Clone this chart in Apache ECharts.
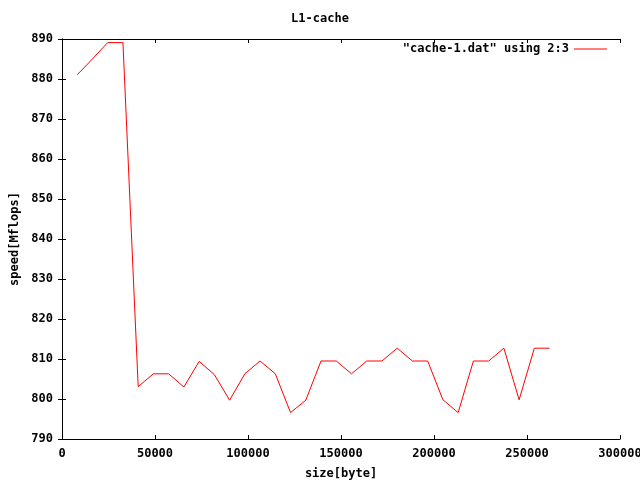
<!DOCTYPE html>
<html>
<head>
<meta charset="utf-8">
<script src="https://cdn.jsdelivr.net/npm/echarts@6/dist/echarts.min.js"></script>
<style>html,body{margin:0;padding:0;background:#fff}#c{width:640px;height:480px}</style>
</head>
<body>
<div id="c"></div>
<script>
var sizes = [8192, 12288, 24576, 32768, 40960, 49152, 57344, 65536, 73728, 81920, 90112, 98304, 106496, 114688, 122880, 131072, 139264, 147456, 155648, 163840, 172032, 180224, 188416, 196608, 204800, 212992, 221184, 229376, 237568, 245760, 253952, 262144];
var speeds = [881.1, 883.0, 889.1, 889.1, 803.1, 806.3, 806.3, 803.0, 809.4, 806.1, 799.7, 806.3, 809.5, 806.3, 796.6, 799.7, 809.5, 809.5, 806.3, 809.5, 809.5, 812.7, 809.5, 809.5, 799.8, 796.6, 809.5, 809.5, 812.7, 799.8, 812.7, 812.7];
var seriesName = '"cache-1.dat" using 2:3';
var titleText = 'L1-cache';
var xName = 'size[byte]';
var yName = 'speed[Mflops]';

var FONT = 'DejaVu Sans Mono';
var txt = {fontFamily: FONT, fontSize: 12, fontWeight: 'bold', color: '#000'};
var data = sizes.map(function (s, i) { return [s, speeds[i]]; });
var plain = function (v) { return String(v); };

var chart = echarts.init(document.getElementById('c'), null, {renderer: 'canvas'});
var axisCommon = {
  axisLine: {show: true, lineStyle: {color: '#000', width: 1}},
  axisTick: {show: true, inside: true, length: 4, lineStyle: {color: '#000'}},
  splitLine: {show: false}
};
chart.setOption({
  animation: false,
  backgroundColor: '#fff',
  title: {text: titleText, left: 'center', top: 13, textStyle: txt, padding: 0},
  legend: {
    data: [{name: seriesName, icon: 'rect'}],
    right: 33, top: 43, align: 'right', itemWidth: 33, itemHeight: 1,
    textStyle: txt, padding: 0, itemGap: 0
  },
  grid: {left: 62, right: 20, top: 39, bottom: 41, containLabel: false, outerBoundsMode: 'none'},
  xAxis: [
    Object.assign({type: 'value', min: 0, max: 300000, interval: 50000, position: 'bottom',
      name: xName, nameLocation: 'middle', nameGap: 29, nameTextStyle: txt,
      axisLabel: Object.assign({margin: 9, showMaxLabel: true, showMinLabel: true, formatter: plain}, txt)}, axisCommon),
    Object.assign({type: 'value', min: 0, max: 300000, interval: 50000, position: 'top',
      axisLabel: {show: false}}, axisCommon)
  ],
  yAxis: [
    Object.assign({type: 'value', min: 790, max: 890, interval: 10, position: 'left',
      name: yName, nameLocation: 'middle', nameGap: 40, nameRotate: 90, nameTextStyle: txt,
      axisLabel: Object.assign({margin: 9, formatter: plain}, txt)}, axisCommon),
    Object.assign({type: 'value', min: 790, max: 890, interval: 10, position: 'right',
      axisLabel: {show: false}}, axisCommon)
  ],
  series: [{
    name: seriesName, type: 'line', data: data, xAxisIndex: 0, yAxisIndex: 0,
    showSymbol: false, symbol: 'none',
    lineStyle: {color: '#ff0000', width: 1}, itemStyle: {color: '#ff0000'}
  }]
});
</script>
</body>
</html>
